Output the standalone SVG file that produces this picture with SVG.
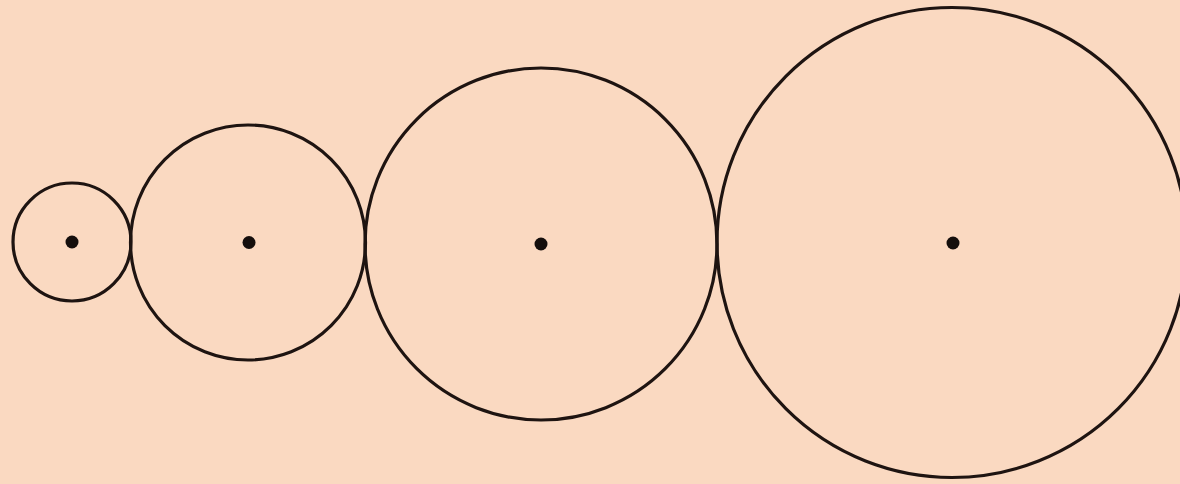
<svg xmlns="http://www.w3.org/2000/svg" width="1180" height="484" viewBox="0 0 1180 484">
<style>
.c{fill:none;stroke:#1E1411;stroke-width:3.2}
.d{fill:#140E0C}
</style>
<rect width="1180" height="484" fill="#FAD9C1"/>
<g id="circle1"><circle class="c" cx="72" cy="242" r="59"/><circle class="d" cx="72" cy="242" r="6.5"/></g>
<g id="circle2"><circle class="c" cx="248" cy="242.5" r="117.5"/><circle class="d" cx="249" cy="242.5" r="6.5"/></g>
<g id="circle3"><circle class="c" cx="541" cy="244" r="176"/><circle class="d" cx="541" cy="244" r="6.5"/></g>
<g id="circle4"><circle class="c" cx="952" cy="242.5" r="235"/><circle class="d" cx="953" cy="243" r="6.5"/></g>
<g id="connectors"/>
</svg>
